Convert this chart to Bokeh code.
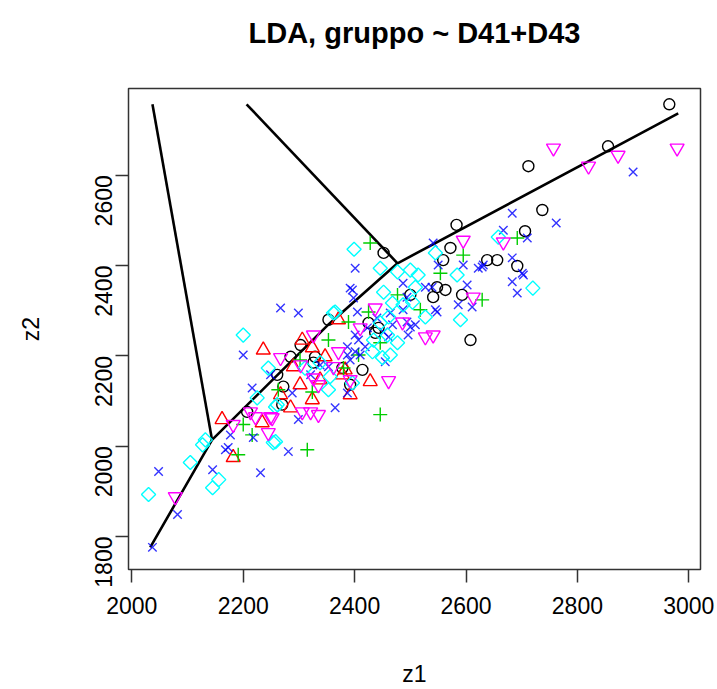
import math
from bokeh.plotting import figure
from bokeh.models import Range1d, FixedTicker, Title
from bokeh.embed import file_html
from bokeh.resources import INLINE

# ---------------- data ----------------
x_ticks = [2000, 2200, 2400, 2600, 2800, 3000]
y_ticks = [1800, 2000, 2200, 2400, 2600]

# group 1: black circles
g1_x = [2965, 2712, 2855, 2737, 2583, 2706, 2572, 2559, 2638, 2656, 2692, 2452,
        2541, 2563, 2593, 2500, 2548, 2608, 2353, 2425, 2443, 2437, 2414, 2378,
        2329, 2326, 2392, 2270, 2207, 2261, 2272, 2303, 2285]
g1_y = [2757, 2620, 2664, 2523, 2490, 2476, 2439, 2412, 2412, 2412, 2399, 2428,
        2330, 2346, 2335, 2335, 2352, 2235, 2280, 2273, 2262, 2251, 2169, 2173,
        2198, 2185, 2136, 2092, 2076, 2158, 2132, 2224, 2198]

# group 2: red triangles
g2_x = [2236, 2306, 2371, 2324, 2290, 2428, 2285, 2234, 2162, 2182, 2347, 2378,
        2338, 2267, 2302, 2392, 2324, 2383]
g2_y = [2213, 2235, 2280, 2218, 2176, 2143, 2085, 2052, 2059, 1975, 2198, 2158,
        2147, 2114, 2136, 2114, 2103, 2169]

# group 3: green plus
g3_x = [2428, 2692, 2595, 2554, 2629, 2477, 2425, 2389, 2353, 2446, 2407, 2380,
        2263, 2200, 2216, 2191, 2315, 2446, 2324, 2518, 2302]
g3_y = [2450, 2461, 2423, 2383, 2324, 2335, 2297, 2275, 2235, 2229, 2202, 2173,
        2125, 2048, 2025, 1981, 1992, 2070, 2120, 2302, 2191]

# group 4: blue crosses
g4_x = [2037, 2048, 2082, 2145, 2231, 2281, 2365, 2299, 2168, 2177, 2218,
        2900, 2683, 2762, 2541, 2667, 2710, 2683, 2703, 2683, 2692, 2629,
        2550, 2539, 2595, 2622, 2701, 2586, 2611, 2548, 2487, 2527, 2602, 2494,
        2267, 2299, 2401, 2396, 2405, 2200, 2216, 2288, 2387, 2173, 2387, 2401,
        2392, 2398, 2494, 2464, 2487, 2509, 2545, 2440, 2423, 2452, 2468, 2500,
        2496, 2401, 2387, 2419, 2392, 2410, 2455, 2461, 2353, 2407, 2631,
        2321, 2338, 2249]
g4_y = [1776, 1944, 1849, 1948, 1941, 1988, 2085, 2059, 1992, 2025, 2019,
        2607, 2516, 2494, 2450, 2478, 2461, 2417, 2379, 2364, 2339, 2397,
        2401, 2352, 2401, 2394, 2383, 2313, 2308, 2297, 2361, 2352, 2357, 2275,
        2306, 2295, 2394, 2346, 2297, 2202, 2129, 2118, 2118, 1997, 2202, 2209,
        2350, 2328, 2330, 2295, 2302, 2269, 2302, 2284, 2262, 2253, 2269, 2264,
        2246, 2246, 2220, 2220, 2191, 2202, 2187, 2242, 2176, 2235, 2401,
        2158, 2180, 2158]

# group 5: cyan diamonds
g5_x = [2030, 2105, 2127, 2132, 2145, 2156, 2254, 2261, 2200, 2399, 2362, 2446,
        2477, 2500, 2514, 2545, 2658, 2720, 2584, 2590, 2509, 2452, 2487, 2527,
        2504, 2468, 2461, 2365, 2446, 2459, 2477, 2434, 2432, 2464, 2450, 2396,
        2338, 2245, 2225, 2258, 2353, 2258, 2356, 2311]
g5_y = [1893, 1964, 2003, 2014, 1908, 1926, 2008, 2092, 2246, 2436, 2295, 2394,
        2386, 2390, 2379, 2428, 2463, 2350, 2379, 2280, 2352, 2341, 2313, 2286,
        2319, 2317, 2286, 2297, 2273, 2246, 2229, 2235, 2209, 2202, 2196, 2140,
        2185, 2173, 2107, 2087, 2125, 2010, 2154, 2173]

# group 6: magenta inverted triangles
g6_x = [2757, 2820, 2873, 2979, 2595, 2667, 2613, 2527, 2541, 2461, 2437, 2486,
        2410, 2326, 2362, 2267, 2303, 2326, 2335, 2321, 2335, 2306, 2213, 2249,
        2245, 2182, 2078, 2252, 2371, 2392, 2222]
g6_y = [2660, 2620, 2644, 2660, 2456, 2452, 2330, 2242, 2246, 2145, 2306, 2275,
        2262, 2246, 2176, 2196, 2180, 2151, 2136, 2076, 2070, 2076, 2076, 2065,
        2030, 2048, 1888, 2063, 2209, 2147, 2065]

# partition boundaries
bnd_main_x = [2033, 2144, 2350, 2477, 2981]
bnd_main_y = [1776, 2014, 2266, 2405, 2737]
bnd_left_x = [2037, 2144]
bnd_left_y = [2757, 2014]
bnd_upper_x = [2206, 2477]
bnd_upper_y = [2757, 2405]

FONT = "Liberation Sans"

p = figure(width=717, height=689, output_backend="svg", toolbar_location=None,
           x_range=Range1d(1994, 3021), y_range=Range1d(1727, 2792),
           min_border_left=128, min_border_right=17, min_border_top=88,
           min_border_bottom=119, background_fill_color="white",
           border_fill_color="white", title=None)
# spacer (closest to the frame) then the main title above it
p.add_layout(Title(text=" ", text_font_size="21px", text_font=FONT), "above")
p.add_layout(Title(text="LDA, gruppo ~ D41+D43", align="center",
                   text_font_size="29px", text_font=FONT, text_font_style="bold",
                   text_color="black"), "above")

p.xgrid.visible = False
p.ygrid.visible = False
p.outline_line_color = "#333333"
p.outline_line_width = 1.5

for ax in (p.xaxis[0], p.yaxis[0]):
    ax.minor_tick_line_color = None
    ax.major_tick_in = 0
    ax.major_tick_out = 13
    ax.major_tick_line_color = "#333333"
    ax.major_tick_line_width = 1.5
    ax.axis_line_color = None
    ax.major_label_text_font = FONT
    ax.major_label_text_font_size = "23px"
    ax.major_label_text_color = "black"
    ax.axis_label_text_font = FONT
    ax.axis_label_text_font_size = "23px"
    ax.axis_label_text_font_style = "normal"
    ax.axis_label_text_color = "black"

p.xaxis[0].ticker = FixedTicker(ticks=x_ticks)
p.yaxis[0].ticker = FixedTicker(ticks=y_ticks)
p.xaxis[0].axis_label = "z1"
p.yaxis[0].axis_label = "z2"
p.xaxis[0].major_label_standoff = 14
p.xaxis[0].axis_label_standoff = 44
p.yaxis[0].major_label_orientation = math.pi / 2
p.yaxis[0].major_label_standoff = 12
p.yaxis[0].axis_label_standoff = 40

# boundaries
for bx, by in ((bnd_main_x, bnd_main_y), (bnd_left_x, bnd_left_y), (bnd_upper_x, bnd_upper_y)):
    p.line(bx, by, line_color="black", line_width=2.6)

lw = 1.4
p.scatter(g1_x, g1_y, marker="circle", size=11, fill_color=None, line_color="black", line_width=lw)
p.scatter(g2_x, g2_y, marker="triangle", size=14, fill_color=None, line_color="#FF0000", line_width=lw)
p.scatter(g3_x, g3_y, marker="cross", size=14, fill_color=None, line_color="#00CD00", line_width=lw)
p.scatter(g4_x, g4_y, marker="x", size=12, fill_color=None, line_color="#0000FF", line_width=lw, line_alpha=0.8)
p.scatter(g5_x, g5_y, marker="square", angle=math.pi / 4, size=10, fill_color=None, line_color="#00FFFF", line_width=lw)
p.scatter(g6_x, g6_y, marker="inverted_triangle", size=14, fill_color=None, line_color="#FF00FF", line_width=lw)

open("out.html", "w").write(file_html(p, INLINE))
